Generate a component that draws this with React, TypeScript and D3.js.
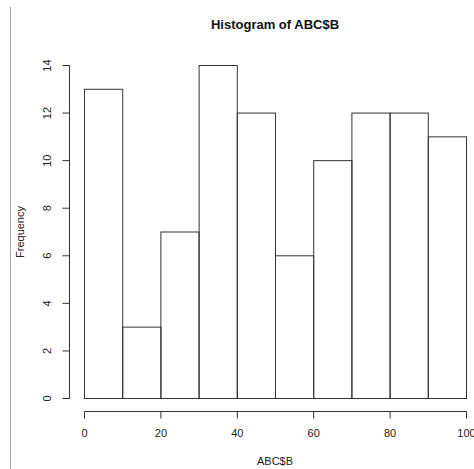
import * as d3 from "d3";
import { useEffect, useRef } from "react";

const breaks = [0, 10, 20, 30, 40, 50, 60, 70, 80, 90, 100];
const counts = [13, 3, 7, 14, 12, 6, 10, 12, 12, 11];
const xTicks = [0, 20, 40, 60, 80, 100];
const yTicks = [0, 2, 4, 6, 8, 10, 12, 14];

const W = 474;
const H = 469;
const FONT = "'Liberation Sans', Arial, sans-serif";
const INK = "#333";

export default function App() {
  const ref = useRef<SVGSVGElement | null>(null);

  useEffect(() => {
    const svg = d3.select(ref.current);
    svg.selectAll("*").remove();

    const x = d3.scaleLinear().domain([0, 100]).range([84.5, 466.5]);
    const y = d3.scaleLinear().domain([0, 14]).range([398.5, 65.5]);

    // left frame line
    svg.append("line")
      .attr("x1", 10.5).attr("x2", 10.5)
      .attr("y1", 7).attr("y2", H)
      .attr("stroke", "#aaa");

    // bars
    svg.append("g")
      .selectAll("rect")
      .data(counts)
      .enter()
      .append("rect")
      .attr("x", (_, i) => x(breaks[i]))
      .attr("y", (d) => y(d))
      .attr("width", (_, i) => x(breaks[i + 1]) - x(breaks[i]))
      .attr("height", (d) => y(0) - y(d))
      .attr("fill", "none")
      .attr("stroke", INK);

    // x axis
    const gx = svg.append("g").attr("transform", "translate(0,411.5)");
    gx.append("line")
      .attr("x1", x(0)).attr("x2", x(100))
      .attr("stroke", INK);
    gx.selectAll(".t")
      .data(xTicks)
      .enter()
      .append("line")
      .attr("x1", (d) => x(d)).attr("x2", (d) => x(d))
      .attr("y1", 0).attr("y2", 7)
      .attr("stroke", INK);
    gx.selectAll("text")
      .data(xTicks)
      .enter()
      .append("text")
      .attr("x", (d) => x(d))
      .attr("y", 25)
      .attr("text-anchor", "middle")
      .attr("font-family", FONT)
      .attr("font-size", 11)
      .attr("fill", "#222")
      .text((d) => String(d));

    // y axis
    const gy = svg.append("g").attr("transform", "translate(69.5,0)");
    gy.append("line")
      .attr("y1", y(0)).attr("y2", y(14))
      .attr("stroke", INK);
    gy.selectAll(".t")
      .data(yTicks)
      .enter()
      .append("line")
      .attr("y1", (d) => y(d)).attr("y2", (d) => y(d))
      .attr("x1", 0).attr("x2", -7)
      .attr("stroke", INK);
    gy.selectAll("text")
      .data(yTicks)
      .enter()
      .append("text")
      .attr("transform", (d) => `translate(-19,${y(d)}) rotate(-90)`)
      .attr("text-anchor", "middle")
      .attr("font-family", FONT)
      .attr("font-size", 11)
      .attr("fill", "#222")
      .text((d) => String(d));

    // titles
    svg.append("text")
      .attr("x", 275).attr("y", 29)
      .attr("text-anchor", "middle")
      .attr("font-family", FONT)
      .attr("font-weight", "bold")
      .attr("font-size", 13)
      .attr("fill", "#111")
      .text("Histogram of ABC$B");

    svg.append("text")
      .attr("x", 275).attr("y", 465)
      .attr("text-anchor", "middle")
      .attr("font-family", FONT)
      .attr("font-size", 11)
      .attr("fill", "#222")
      .text("ABC$B");

    svg.append("text")
      .attr("transform", "translate(24,232) rotate(-90)")
      .attr("text-anchor", "middle")
      .attr("font-family", FONT)
      .attr("font-size", 11)
      .attr("fill", "#222")
      .text("Frequency");
  }, []);

  return (
    <svg
      ref={ref}
      width={W}
      height={H}
      style={{ position: "absolute", left: 0, top: 0, background: "#fff" }}
    />
  );
}
